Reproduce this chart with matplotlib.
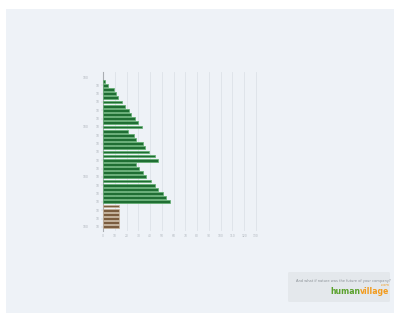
import matplotlib
matplotlib.use("Agg")
import matplotlib.pyplot as plt
from matplotlib.patches import Rectangle, FancyBboxPatch

# data (top to bottom)
tree_values = [2, 4, 9, 11, 13, 16, 19, 22, 24, 27, 30, 33,
               21, 26, 28, 34, 36, 39, 44, 47,
               28, 31, 34, 37, 41, 44, 47, 51, 54, 57]
trunk_values = [14, 14, 14, 14, 14, 14]
x_ticks = list(range(0, 140, 10))
inner_labels = ["10"] * 18
outer_labels = ["100", "100", "100", "100"]

values = tree_values + trunk_values
colors = ["#1f6e33"] * len(tree_values) + ["#7b5d3f"] * len(trunk_values)
edges = ["#5fae6e"] * len(tree_values) + ["#c9b49a"] * len(trunk_values)

W, H = 398, 313
fig = plt.figure(figsize=(W / 100, H / 100), dpi=100)
fig.patch.set_facecolor("white")
fig.add_artist(Rectangle((6 / W, 0), (394 - 6) / W, (H - 9) / H,
                         transform=fig.transFigure, facecolor="#eef2f7",
                         edgecolor="none", zorder=0))

ax = fig.add_axes([103 / W, (H - 231) / H, (257 - 103) / W, (231 - 72) / H])
ax.set_facecolor("none")
ypos = list(range(len(values)))
ax.barh(ypos, values, height=0.68, color=colors, edgecolor=edges,
        linewidth=0.5, zorder=3)
ax.set_xlim(0, 131)
ax.set_ylim(36, -2.2)
ax.set_xticks(x_ticks)
ax.set_xticklabels([str(t) for t in x_ticks], fontsize=2.2, color="#b0b6bd")
ax.tick_params(axis="x", length=0, pad=2)
ax.grid(axis="x", color="#dde2e8", linewidth=0.6, zorder=0)
for s in ["top", "right", "bottom"]:
    ax.spines[s].set_visible(False)
ax.spines["left"].set_color("#a9adb2")
ax.spines["left"].set_linewidth(0.8)

ax.set_yticks([i for i in range(1, 36, 2)])
ax.set_yticklabels(inner_labels, fontsize=2.2, color="#aab0b7")
ax.tick_params(axis="y", length=1.2, width=0.3, color="#c0c4c8", pad=1.5)
for lbl, yv in zip(outer_labels, [-0.8, 11, 23, 35]):
    ax.text(-0.095, yv, lbl, transform=ax.get_yaxis_transform(),
            fontsize=2.2, color="#aab0b7", ha="right", va="center")

# logo box
fig.add_artist(FancyBboxPatch((288 / W, (H - 302) / H), 102 / W, 30 / H,
                              boxstyle="round,pad=0,rounding_size=0.004",
                              transform=fig.transFigure, facecolor="#e4e8ec",
                              edgecolor="none", zorder=1))
fig.text(296 / W, (H - 281) / H, "And what if nature was the future of your company?",
         fontsize=2.6, color="#8c9297", ha="left", va="center", zorder=2)
t1 = fig.text(330 / W, (H - 292) / H, "human", fontsize=5.6, color="#5aa12c",
              fontweight="bold", ha="left", va="center", zorder=2)
t2 = fig.text(0, 0, "village", fontsize=5.6, color="#f29b1d",
              fontweight="bold", ha="left", va="center", zorder=2)
fig.canvas.draw()
r = fig.canvas.get_renderer()
bb = t1.get_window_extent(r)
t2.set_position((bb.x1 / W, (H - 292) / H))
bb2 = t2.get_window_extent(r)
fig.text((bb2.x1 - 9) / W, (H - 285) / H, ".com", fontsize=2.5, color="#f29b1d",
         ha="left", va="center", zorder=2)

fig.savefig("out.png", dpi=100, facecolor="white")
